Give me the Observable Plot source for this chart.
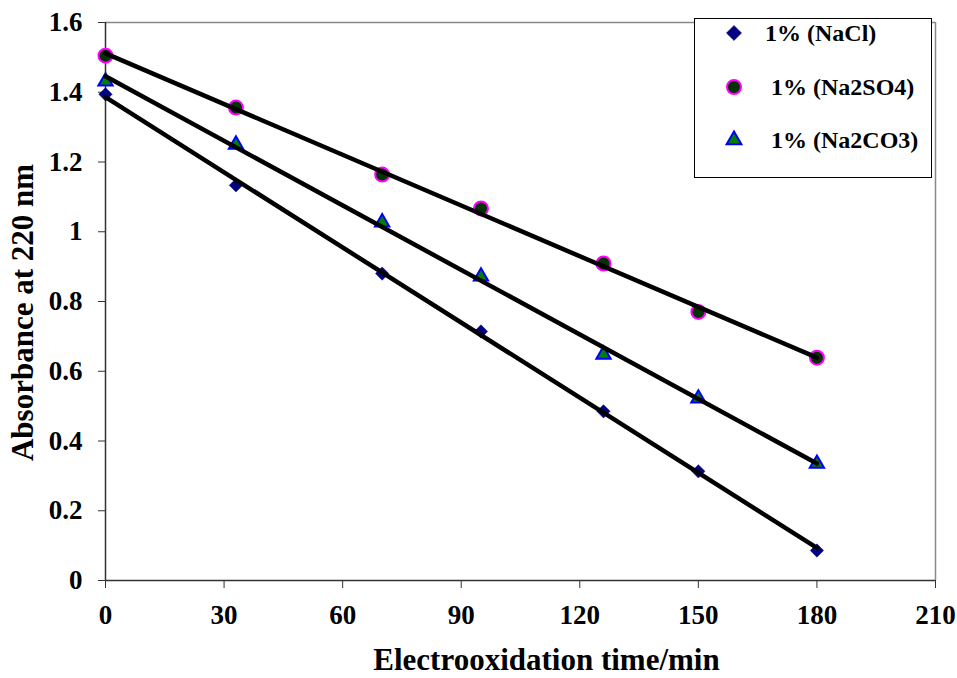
<!DOCTYPE html>
<html>
<head>
<meta charset="utf-8">
<script src="https://cdn.jsdelivr.net/npm/d3@7"></script>
<script src="https://cdn.jsdelivr.net/npm/@observablehq/plot@0.6"></script>
<style>
  html, body { margin: 0; padding: 0; background: #fff; }
  #wrap { position: relative; width: 957px; height: 678px; font-family: "Liberation Serif", "Times New Roman", serif; font-weight: bold; }
  #legend { position: absolute; left: 694px; top: 18px; width: 238px; height: 160px; border: 1px solid #000; background: #fff; box-sizing: border-box; }
  .entry { position: absolute; left: 0; width: 236px; height: 30px; font-size: 24px; line-height: 30px; color: #000; white-space: pre; }
  .entry svg { position: absolute; left: 24px; top: 0; }
</style>
</head>
<body>
<div id="wrap"></div>
<script>
// ---- data ----
const times = [0, 33, 70, 95, 126, 150, 180];
const nacl   = [1.394, 1.133, 0.880, 0.714, 0.485, 0.313, 0.086];
const na2so4 = [1.505, 1.356, 1.164, 1.067, 0.909, 0.770, 0.639];
const na2co3 = [1.431, 1.250, 1.027, 0.872, 0.648, 0.522, 0.335];
const seriesNames = ["1% (NaCl)", "1% (Na2SO4)", "1% (Na2CO3)"];
const xTicks = [0, 30, 60, 90, 120, 150, 180, 210];
const yTicks = [0, 0.2, 0.4, 0.6, 0.8, 1, 1.2, 1.4, 1.6];
const yTickLabels = ["0", "0.2", "0.4", "0.6", "0.8", "1", "1.2", "1.4", "1.6"];
const xTitle = "Electrooxidation time/min";
const yTitle = "Absorbance at 220 nm";

const seriesValues = [nacl, na2so4, na2co3];
const styles = [
  {symbol: "diamond2", r: 6, fill: "#000080", stroke: "#000080", strokeWidth: 0.5},
  {symbol: "circle", r: 7, fill: "#003300", stroke: "#ff00ff", strokeWidth: 2},
  {symbol: "triangle", r: 5.3, fill: "#008000", stroke: "#0000ff", strokeWidth: 2}
];
const legendR = [6.8, 7, 5.5];

const rows = seriesNames.flatMap((name, s) =>
  times.map((t, i) => ({series: name, time: t, value: seriesValues[s][i]})));

const dotMarks = seriesNames.map((name, s) =>
  Plot.dot(rows.filter(d => d.series === name), {x: "time", y: "value", ...styles[s]}));

const chart = Plot.plot({
  width: 957,
  height: 678,
  marginLeft: 105,
  marginRight: 22,
  marginTop: 22,
  marginBottom: 98,
  style: {fontFamily: "'Liberation Serif', 'Times New Roman', serif", fontWeight: "bold", fontSize: "27px", color: "#000", background: "#fff"},
  x: {domain: [0, 210]},
  y: {domain: [0, 1.6]},
  marks: [
    Plot.ruleY([1.6], {stroke: "#888", strokeWidth: 1.5}),
    Plot.ruleX([210], {stroke: "#888", strokeWidth: 1.5}),
    Plot.axisX({ticks: xTicks, tickSize: 8, tickPadding: 16, stroke: "#333", fill: "#000", label: null, fontSize: 27}),
    Plot.axisY({ticks: yTicks, tickFormat: (d, i) => yTickLabels[i], tickSize: 7, tickPadding: 16, stroke: "#333", fill: "#000", label: null, fontSize: 27}),
    Plot.ruleX([0], {stroke: "#333", strokeWidth: 1.5}),
    Plot.ruleY([0], {stroke: "#333", strokeWidth: 1.5}),
    ...dotMarks,
    Plot.linearRegressionY(rows, {x: "time", y: "value", z: "series", stroke: "black", strokeWidth: 4.5, ci: 0}),
    Plot.text([xTitle], {frameAnchor: "bottom", textAnchor: "middle", lineAnchor: "middle", dx: 26, dy: 80, fontSize: 31, fontWeight: "bold", fill: "#000"}),
    Plot.text([yTitle], {frameAnchor: "left", textAnchor: "middle", lineAnchor: "middle", dx: -82, dy: 11, rotate: -90, fontSize: 31, fontWeight: "bold", fill: "#000"})
  ]
});

const wrap = document.getElementById("wrap");
wrap.appendChild(chart);

// legend
const legend = document.createElement("div");
legend.id = "legend";
const entryCenters = [14, 67.5, 121];
const textLefts = [70, 76, 76];
seriesNames.forEach((name, s) => {
  const e = document.createElement("div");
  e.className = "entry";
  e.style.top = (entryCenters[s] - 15) + "px";
  const st = styles[s];
  const r = legendR[s];
  const size = Math.PI * r * r;
  const symType = st.symbol === "diamond2" ? d3.symbolDiamond2 : st.symbol === "circle" ? d3.symbolCircle : d3.symbolTriangle;
  const svg = d3.create("svg").attr("width", 30).attr("height", 30);
  svg.append("path")
    .attr("transform", "translate(15,15)")
    .attr("d", d3.symbol(symType, size)())
    .attr("fill", st.fill).attr("stroke", st.stroke).attr("stroke-width", st.strokeWidth);
  e.appendChild(svg.node());
  const span = document.createElement("span");
  span.textContent = name;
  span.style.position = "absolute";
  span.style.left = textLefts[s] + "px";
  e.appendChild(span);
  legend.appendChild(e);
});
wrap.appendChild(legend);
</script>
</body>
</html>
